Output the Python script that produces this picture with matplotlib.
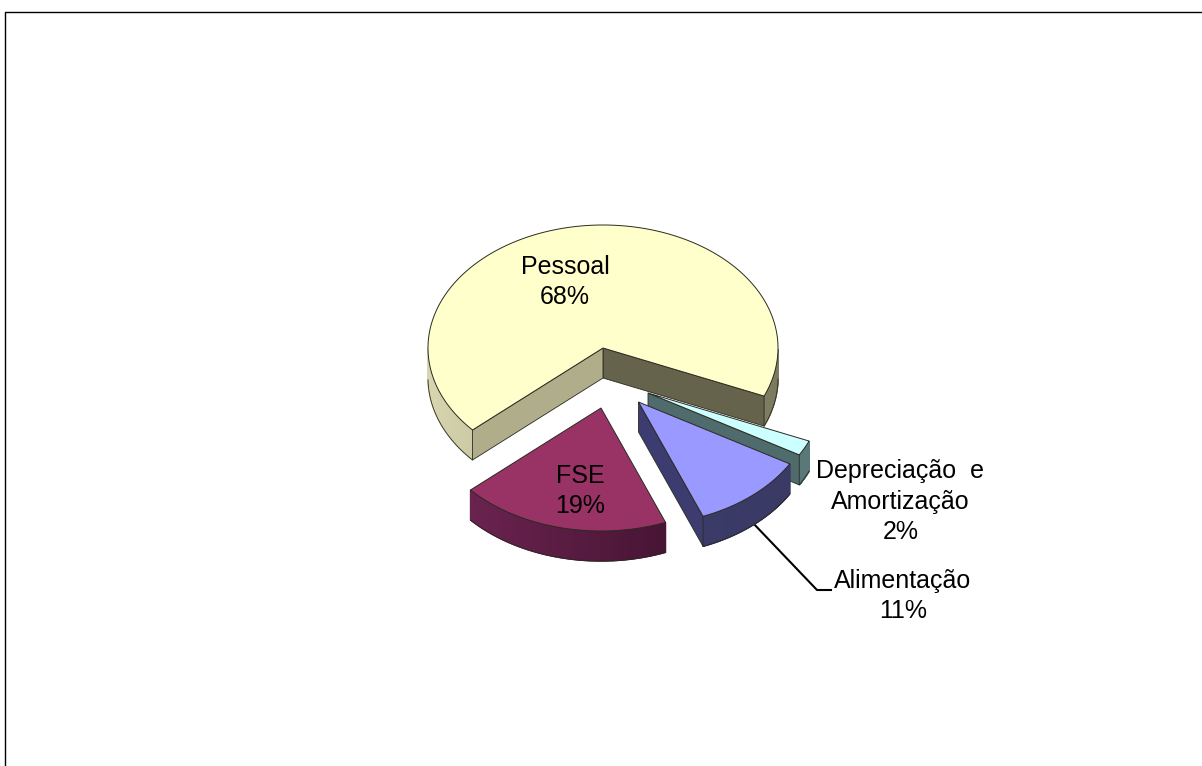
import numpy as np
import matplotlib
matplotlib.use("Agg")
import matplotlib.pyplot as plt
from matplotlib.colors import to_rgb

plt.rcParams['font.family'] = ['Liberation Sans', 'DejaVu Sans']

categorias = ["Pessoal", "FSE", "Alimentação", "Depreciação  e\nAmortização"]
valores = [68, 19.4, 10.6, 2]

# cores: topo, borda esquerda/direita, face de corte inicial e final
cor_topo = ["#ffffcc", "#993366", "#9999ff", "#ccffff"]
cor_borda_esq = ["#d8d6b0", "#722655", "#3c3c70", "#5f7d7d"]
cor_borda_dir = ["#7c7a5e", "#340d26", "#3a3a64", "#5a7878"]
cor_corte_ini = ["#66634c", "#662244", "#3c3c70", "#4f6b6b"]
cor_corte_fim = ["#b0ae8a", "#662244", "#3c3c70", "#4f6b6b"]

# geometria em pixels
rx, ry = 175, 123
prof = 30
ang_inicio = -23.0
centros = [(603, 348), (601, 408), (638.5, 402), (648, 393)]
pos_texto = [(565, 282), (580, 491), (903, 596), (900.5, 501.5)]
ordem_desenho = [0, 3, 2, 1]

fig = plt.figure(figsize=(12.02, 7.66), dpi=100)
ax = fig.add_axes([0, 0, 1, 1])
ax.set_xlim(0, 1202)
ax.set_ylim(766, 0)
ax.axis('off')

# moldura
ax.plot([4.5, 4.5, 1202], [766, 11.5, 11.5], color='black', lw=1.0, solid_capstyle='butt')

# linha de chamada da Alimentação
ax.plot([752, 817, 831], [522, 590, 590], color='black', lw=1.5, zorder=1)


def ponto(c, ang, z=0):
    a = np.radians(ang)
    return c[0] + rx * np.cos(a), c[1] - ry * np.sin(a) + z


def desenha_fatia(i, a0, a1):
    c = centros[i]
    z = 2 + ordem_desenho.index(i)
    contorno = dict(color='#2a2a20', lw=0.6, zorder=z + 0.2)

    # faces de corte
    for ang, normal, cor in [(a0, a0 - 90, cor_corte_ini[i]), (a1, a1 + 90, cor_corte_fim[i])]:
        if np.sin(np.radians(normal)) < 0:
            px, py = ponto(c, ang)
            ax.fill([c[0], px, px, c[0]], [c[1], py, py + prof, c[1] + prof],
                    facecolor=cor, edgecolor='#2a2a20', lw=0.6, zorder=z + 0.05)

    # borda externa, só a parte virada para a frente
    angs = np.linspace(a0, a1, 240)
    for b0, b1 in zip(angs[:-1], angs[1:]):
        meio = (b0 + b1) / 2
        if np.sin(np.radians(meio)) >= 0:
            continue
        x0, y0 = ponto(c, b0)
        x1, y1 = ponto(c, b1)
        t = (np.cos(np.radians(meio)) + 1) / 2
        cor = (1 - t) * np.array(to_rgb(cor_borda_esq[i])) + t * np.array(to_rgb(cor_borda_dir[i]))
        ax.fill([x0, x1, x1, x0], [y0, y1, y1 + prof, y0 + prof], facecolor=cor,
                edgecolor=cor, lw=1.0, zorder=z)
    frente = angs[np.sin(np.radians(angs)) < 0]
    if len(frente) > 1:
        quebras = np.where(np.diff(frente) > 2)[0] + 1
        for trecho in np.split(frente, quebras):
            xs, ys = ponto(c, trecho)
            ax.plot(xs, ys + prof, **contorno)

    # topo
    xs, ys = ponto(c, angs)
    ax.fill(np.r_[c[0], xs], np.r_[c[1], ys], facecolor=cor_topo[i],
            edgecolor='#2a2a20', lw=0.7, zorder=z + 0.1)


limites = ang_inicio + np.r_[0, np.cumsum(valores)] * 3.6
for i in ordem_desenho:
    desenha_fatia(i, limites[i], limites[i + 1])

for i, cat in enumerate(categorias):
    ax.text(pos_texto[i][0], pos_texto[i][1], f"{cat}\n{round(valores[i])}%", ha='center', va='center',
            fontsize=18, color='black', linespacing=1.33, zorder=10)

fig.savefig("out.png", dpi=100, facecolor='white')
